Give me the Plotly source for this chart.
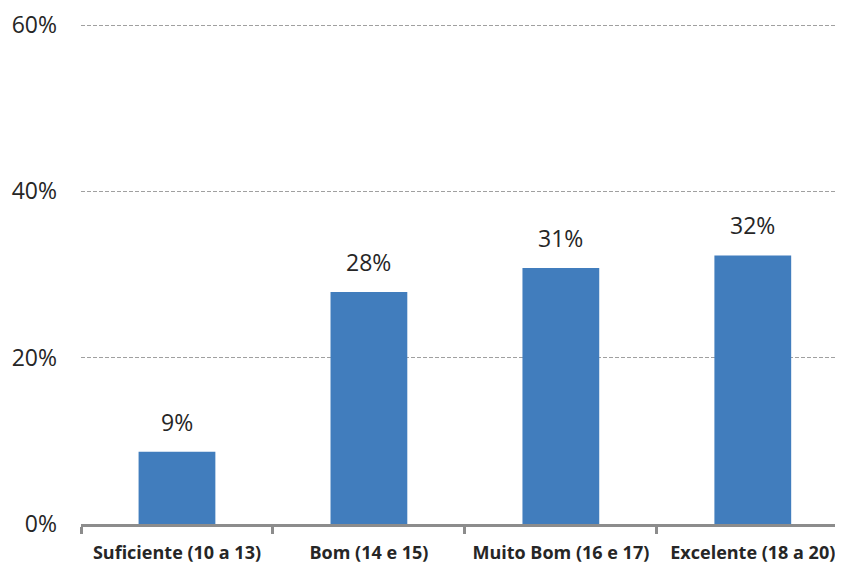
import plotly.graph_objects as go

categories = ["Suficiente (10 a 13)", "Bom (14 e 15)", "Muito Bom (16 e 17)", "Excelente (18 a 20)"]
values = [8.7, 27.9, 30.8, 32.3]
labels = ["9%", "28%", "31%", "32%"]
y_ticks = [0, 20, 40, 60]
y_ticklabels = ["0%", "20%", "40%", "60%"]

fig = go.Figure()
fig.add_trace(go.Bar(
    x=categories, y=values, width=0.4,
    marker=dict(color="#417dbd", line=dict(width=0)),
    hoverinfo="skip",
))
for c, v, t in zip(categories, values, labels):
    fig.add_annotation(x=c, y=v, text=t, showarrow=False, yanchor="bottom",
                       yshift=12, font=dict(family="Open Sans, sans-serif", size=23, color="#262626"))

# page body adds an 8px offset; margins compensate so the plot lands where the reference has it
fig.update_layout(
    width=843, height=563,
    margin=dict(l=73, r=8, t=15, b=47),
    paper_bgcolor="white", plot_bgcolor="white",
    showlegend=False,
    bargap=0.6,
)
fig.update_xaxes(
    range=[-0.5, 3.47], automargin=False,
    showline=True, linecolor="#8c8c8c", linewidth=3,
    ticks="outside", tickson="boundaries", ticklen=7, tickwidth=3, tickcolor="#8c8c8c",
    ticklabelstandoff=10,
    tickfont=dict(family="Open Sans, sans-serif", size=18, color="#262626", weight="bold"),
    showgrid=False,
)
fig.update_yaxes(
    range=[0, 60.25], tickvals=y_ticks, ticktext=y_ticklabels, automargin=False,
    showgrid=True, gridcolor="#a0a0a0", griddash="4px,2px", gridwidth=1,
    zeroline=False, showline=False, ticks="",
    ticklabelstandoff=23,
    tickfont=dict(family="Open Sans, sans-serif", size=23, color="#262626"),
)
fig.write_html("out.html")
